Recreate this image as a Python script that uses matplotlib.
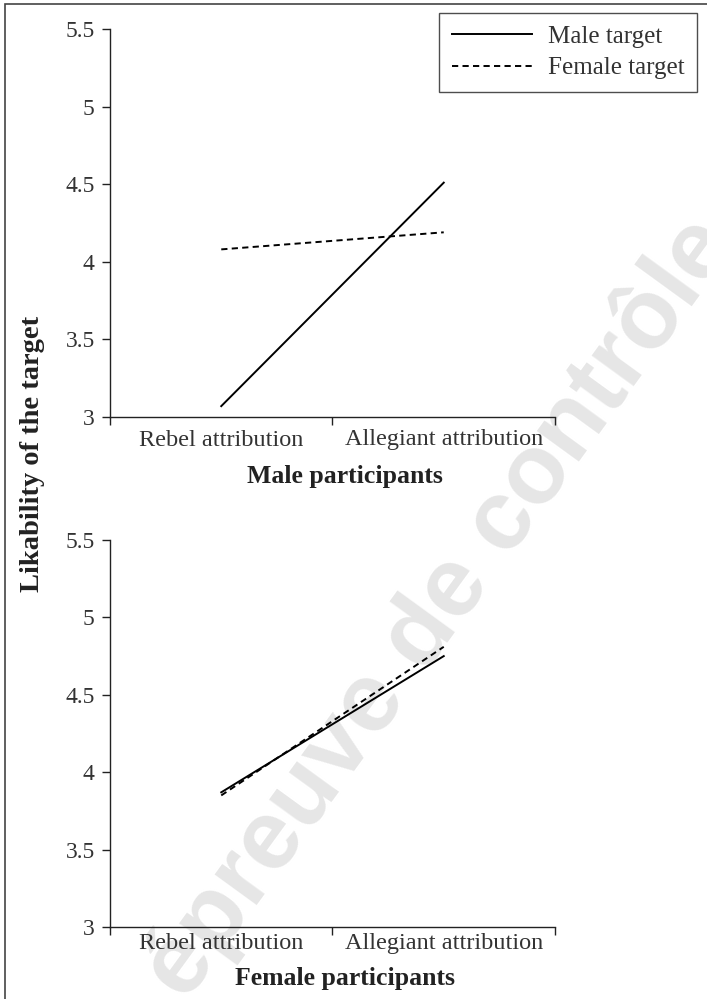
import matplotlib
matplotlib.use('Agg')
import matplotlib.pyplot as plt
from matplotlib.patches import Rectangle

plt.rcParams['font.family'] = ['Liberation Serif', 'DejaVu Serif']

conditions = ['Rebel attribution', 'Allegiant attribution']
yticks = [3, 3.5, 4, 4.5, 5, 5.5]
ytick_labels = ['3', '3.5', '4', '4.5', '5', '5.5']

male_part_male_target = [3.07, 4.51]
male_part_female_target = [4.08, 4.19]
female_part_male_target = [3.87, 4.75]
female_part_female_target = [3.85, 4.81]

W, H = 707, 999
fig = plt.figure(figsize=(W / 100, H / 100), dpi=100)


def px_axes(left, top, right, bottom):
    return fig.add_axes([left / W, 1 - bottom / H, (right - left) / W, (bottom - top) / H])


def panel(ax, male, female, xpad):
    x = range(len(conditions))
    ax.plot(x, male, color='black', lw=1.4, label='Male target')
    ax.plot(x, female, color='black', lw=1.4, ls=(0, (3.2, 2.2)), label='Female target')
    ax.set_xlim(-0.5, 1.5)
    ax.set_ylim(3, 5.5)
    ax.set_facecolor('none')
    for s in ['top', 'right']:
        ax.spines[s].set_visible(False)
    for s in ['left', 'bottom']:
        ax.spines[s].set_linewidth(1.0)
        ax.spines[s].set_color('#222222')
    ax.set_yticks(yticks)
    ax.set_yticklabels(ytick_labels, fontsize=17, color='#333333')
    ax.set_xticks([-0.5, 0.5, 1.5])
    ax.set_xticklabels([])
    ax.set_xticks([0, 1], minor=True)
    ax.set_xticklabels(conditions, minor=True, fontsize=17.5, color='#333333')
    ax.tick_params(axis='x', which='minor', length=0, pad=xpad)
    ax.tick_params(axis='both', which='major', length=6, width=1.0, color='#222222', direction='out')
    ax.tick_params(axis='y', pad=5)
    return ax


ax1 = px_axes(110, 29, 555, 417)
panel(ax1, male_part_male_target, male_part_female_target, 9)
ax2 = px_axes(110, 540, 555, 927)
panel(ax2, female_part_male_target, female_part_female_target, 4)

fig.text(345 / W, 1 - 477 / H, 'Male participants', ha='center', va='center',
         fontsize=18.5, fontweight='bold', color='#222222')
fig.text(345 / W, 1 - 979 / H, 'Female participants', ha='center', va='center',
         fontsize=18.5, fontweight='bold', color='#222222')
fig.text(33 / W, 1 - 454 / H, 'Likability of the target', rotation=90, ha='center', va='center',
         fontsize=20.5, fontweight='bold', color='#222222')

leg = fig.legend(*ax1.get_legend_handles_labels(), loc='upper right',
                 bbox_to_anchor=(697 / W, 1 - 13 / H), borderaxespad=0, fontsize=18,
                 frameon=True, fancybox=False, handlelength=3.2, handletextpad=0.65,
                 borderpad=0.5, labelspacing=0.35, labelcolor='#333333')
leg.get_frame().set_edgecolor('#222222')
leg.get_frame().set_linewidth(1.0)

# proof watermark (cut off by the page edges, as in the source)
fig.text(440 / W, 1 - 608 / H, 'épreuve de contrôle', rotation=54, ha='center', va='center',
         fontsize=71, fontweight='bold', color='#e6e6e6', family='Liberation Sans',
         rotation_mode='anchor', zorder=-5)

# page frame, cropped on right and bottom
fig.patches.append(Rectangle((4.5 / W, -0.01), 1.0, 1 - 3.5 / H + 0.01, transform=fig.transFigure,
                             fill=False, edgecolor='#444444', lw=1.2, zorder=-4))

fig.savefig('out.png', dpi=100)
